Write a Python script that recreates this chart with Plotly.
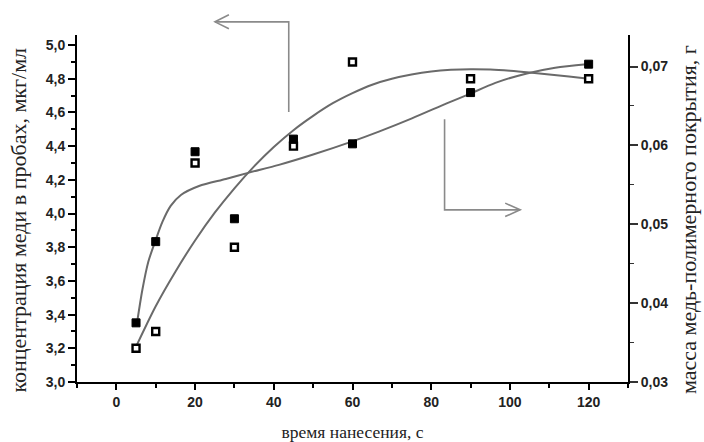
import plotly.graph_objects as go

# ---- data ----
time_s = [5, 10, 20, 30, 45, 60, 90, 120]
conc = [3.2, 3.3, 4.3, 3.8, 4.4, 4.9, 4.8, 4.8]                      # left axis, open squares
mass = [0.0375, 0.0478, 0.0592, 0.0507, 0.0608, 0.0602, 0.0667, 0.0703]  # right axis, filled squares

# fitted curves (sample points)
conc_fit_x = [5, 10, 15, 20, 25, 30, 35, 40, 45, 50, 55, 60, 65, 70, 75, 80, 85, 90, 95, 100, 105, 110, 115, 120]
conc_fit_y = [3.21, 3.45, 3.655, 3.84, 4.005, 4.15, 4.28, 4.395, 4.495, 4.58, 4.655, 4.715, 4.765, 4.80, 4.825,
              4.843, 4.853, 4.857, 4.855, 4.848, 4.838, 4.826, 4.813, 4.80]
mass_fit_x = [5.3, 6.6, 8.1, 10, 11.7, 13.8, 16.4, 21, 27.8, 33.7, 41.3, 49.8, 59.8, 66.7, 75.1, 84.4, 89.5, 96.3,
              104.3, 111.5, 119.5]
mass_fit_y = [0.03765, 0.04167, 0.04522, 0.04801, 0.0503, 0.05233, 0.05372, 0.05486, 0.05575, 0.05655, 0.05753,
              0.05881, 0.06048, 0.06175, 0.06343, 0.06543, 0.06647, 0.06793, 0.06913, 0.06986, 0.0703]

x_ticks = [0, 20, 40, 60, 80, 100, 120]
x_range = [-10, 130]
y_range = [3.0, 5.06]
y2_range = [0.03, 0.074]

x_title = "время нанесения, с"
y_title = "концентрация меди в пробах, мкг/мл"
y2_title = "масса медь-полимерного покрытия, г"

CURVE = "#6a6a6a"
ARROW = "#8a8a8a"

fig = go.Figure()
fig.add_trace(go.Scatter(x=conc_fit_x, y=conc_fit_y, mode="lines",
                         line=dict(color=CURVE, width=2, shape="spline", smoothing=0.8),
                         yaxis="y", showlegend=False, hoverinfo="skip"))
fig.add_trace(go.Scatter(x=mass_fit_x, y=mass_fit_y, mode="lines",
                         line=dict(color=CURVE, width=2, shape="spline", smoothing=0.8),
                         yaxis="y2", showlegend=False, hoverinfo="skip"))
fig.add_trace(go.Scatter(x=time_s, y=conc, mode="markers", yaxis="y",
                         marker=dict(symbol="square", size=7, color="white", line=dict(color="black", width=2.4)),
                         showlegend=False))
fig.add_trace(go.Scatter(x=time_s, y=mass, mode="markers", yaxis="y2",
                         marker=dict(symbol="square", size=8, color="black", line=dict(color="black", width=1)),
                         showlegend=False))

# arrows (in left-axis data units, converted to paper fractions)
def px(x):
    return (x - x_range[0]) / (x_range[1] - x_range[0])

def py(y):
    return (y - y_range[0]) / (y_range[1] - y_range[0])

arrow_left = [(43.8, 4.603), (43.8, 5.138), (25.05, 5.138)]
arrow_left_head = [(28.6, 5.180), (25.05, 5.138), (28.6, 5.097)]
arrow_right = [(83.4, 4.560), (83.4, 4.022), (102.6, 4.022)]
arrow_right_head = [(98.8, 4.062), (102.6, 4.022), (98.8, 3.982)]

shapes = []
for poly in (arrow_left, arrow_left_head, arrow_right, arrow_right_head):
    path = "M " + " L ".join(f"{px(a):.4f},{py(b):.4f}" for a, b in poly)
    shapes.append(dict(type="path", path=path, xref="paper", yref="paper",
                       line=dict(color=ARROW, width=1.6), layer="above"))

tickfont = dict(family="Liberation Sans, Arial, sans-serif", size=14, color="#222", weight="bold")
titlefont = dict(family="Liberation Serif, Times New Roman, serif", size=22, color="#222")

# vertical axis titles placed as annotations beside the axes
annotations = [
    dict(text=y_title, xref="paper", yref="paper", x=-0.106, y=0.467, xanchor="center", yanchor="middle",
         textangle=-90, showarrow=False, font=titlefont),
    dict(text=y2_title, xref="paper", yref="paper", x=1.111, y=0.467, xanchor="center", yanchor="middle",
         textangle=-90, showarrow=False, font=titlefont),
]

fig.update_layout(
    width=704, height=442,
    margin=dict(l=77, r=76, t=35, b=60),
    paper_bgcolor="white", plot_bgcolor="white",
    separators=", ",
    shapes=shapes,
    annotations=annotations,
    xaxis=dict(range=x_range, tickvals=x_ticks, showline=True, linecolor="black", linewidth=2,
               ticks="outside", ticklen=6, tickwidth=2, tickcolor="black", automargin=False,
               minor=dict(dtick=10, tick0=0, ticks="outside", ticklen=4, tickwidth=1.5, tickcolor="black"),
               showgrid=False, zeroline=False, tickfont=tickfont,
               title=dict(text=x_title, font=dict(family=titlefont["family"], size=17.5, color="#222"), standoff=19)),
    yaxis=dict(range=y_range, dtick=0.2, tick0=3.0, tickformat=".1f", showline=True, linecolor="black", linewidth=2,
               ticks="outside", ticklen=7, tickwidth=2, tickcolor="black", automargin=False,
               minor=dict(dtick=0.1, ticks="outside", ticklen=4, tickwidth=1.5, tickcolor="black"),
               showgrid=False, zeroline=False, tickfont=tickfont),
    yaxis2=dict(range=y2_range, dtick=0.01, tick0=0.03, tickformat=".2f", overlaying="y", side="right",
                showline=True, linecolor="black", linewidth=2, automargin=False,
                ticks="outside", ticklen=8, tickwidth=1.5, tickcolor="#333",
                minor=dict(dtick=0.005, ticks="outside", ticklen=4, tickwidth=1, tickcolor="#333"),
                showgrid=False, zeroline=False, tickfont=tickfont),
)

# remove the default 8 px page margin so the 704x442 figure fills the window exactly
fig.write_html("out.html", config={"displayModeBar": False},
               post_script="document.body.style.margin='0px';")
